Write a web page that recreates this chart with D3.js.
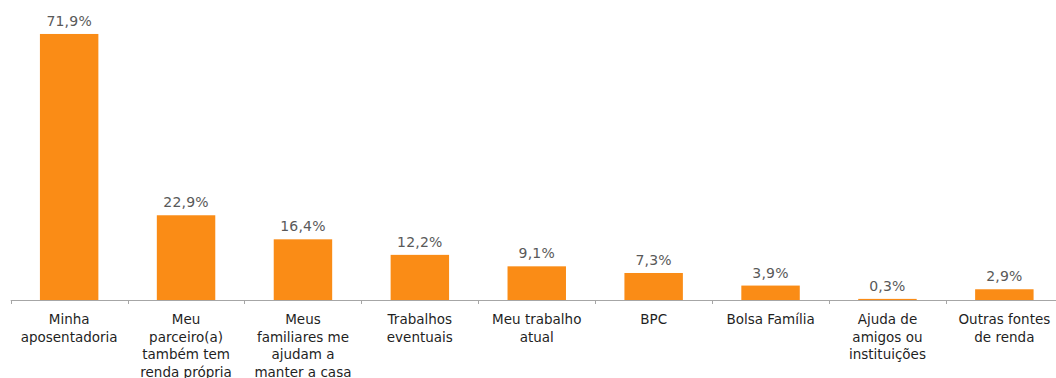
<!DOCTYPE html>
<html>
<head>
<meta charset="utf-8">
<script src="https://cdn.jsdelivr.net/npm/d3@7"></script>
<style>
  html, body { margin: 0; padding: 0; background: #fff; }
  svg { display: block; }
</style>
</head>
<body>
<svg id="chart" width="1056" height="378"></svg>
<script>
const categories = [
  "Minha aposentadoria",
  "Meu parceiro(a) também tem renda própria",
  "Meus familiares me ajudam a manter a casa",
  "Trabalhos eventuais",
  "Meu trabalho atual",
  "BPC",
  "Bolsa Família",
  "Ajuda de amigos ou instituições",
  "Outras fontes de renda"
];
const labelLines = [
  ["Minha", "aposentadoria"],
  ["Meu", "parceiro(a)", "também tem", "renda própria"],
  ["Meus", "familiares me", "ajudam a", "manter a casa"],
  ["Trabalhos", "eventuais"],
  ["Meu trabalho", "atual"],
  ["BPC"],
  ["Bolsa Família"],
  ["Ajuda de", "amigos ou", "instituições"],
  ["Outras fontes", "de renda"]
];
const values = [71.9, 22.9, 16.4, 12.2, 9.1, 7.3, 3.9, 0.3, 2.9];
const valueLabels = ["71,9%", "22,9%", "16,4%", "12,2%", "9,1%", "7,3%", "3,9%", "0,3%", "2,9%"];

const svg = d3.select("#chart");
const baseY = 300;

const x = d3.scaleBand()
  .domain(categories)
  .range([10.7, 1062.8])
  .paddingInner(0.5)
  .paddingOuter(0.25);

const y = d3.scaleLinear()
  .domain([0, 80])
  .range([baseY, baseY - 296]);

// bars
svg.append("g").selectAll("rect")
  .data(values)
  .join("rect")
  .attr("x", (d, i) => x(categories[i]))
  .attr("y", d => y(d))
  .attr("width", x.bandwidth())
  .attr("height", d => baseY - y(d))
  .attr("fill", "#FA8C16");

// value labels
svg.append("g").selectAll("text")
  .data(values)
  .join("text")
  .attr("x", (d, i) => x(categories[i]) + x.bandwidth() / 2)
  .attr("y", d => y(d) - 8)
  .attr("text-anchor", "middle")
  .attr("font-family", "DejaVu Sans, sans-serif")
  .attr("font-size", 14)
  .attr("letter-spacing", 0.2)
  .attr("fill", "#595959")
  .text((d, i) => valueLabels[i]);

// axis line and ticks at band boundaries
const step = x.step();
const start = x.range()[0];
const axis = svg.append("g");
axis.append("line")
  .attr("x1", start).attr("x2", 1056)
  .attr("y1", baseY + 0.5).attr("y2", baseY + 0.5)
  .attr("stroke", "#A6A6A6").attr("stroke-width", 1);
axis.selectAll("line.tick")
  .data(d3.range(categories.length + 1))
  .join("line")
  .attr("class", "tick")
  .attr("x1", i => Math.round(start + i * step) + 0.5)
  .attr("x2", i => Math.round(start + i * step) + 0.5)
  .attr("y1", baseY)
  .attr("y2", baseY + 4)
  .attr("stroke", "#A6A6A6").attr("stroke-width", 1);

// category labels
const lab = svg.append("g").selectAll("text")
  .data(categories)
  .join("text")
  .attr("text-anchor", "middle")
  .attr("font-family", "DejaVu Sans, sans-serif")
  .attr("font-size", 13.5)
  .attr("fill", "#1f1f1f")
  .attr("transform", d => `translate(${x(d) + x.bandwidth() / 2},${baseY + 24})`);
lab.each(function(d, i) {
  d3.select(this).selectAll("tspan")
    .data(labelLines[i])
    .join("tspan")
    .attr("x", 0)
    .attr("dy", (t, j) => j === 0 ? 0 : 17.5)
    .text(t => t);
});
</script>
</body>
</html>
